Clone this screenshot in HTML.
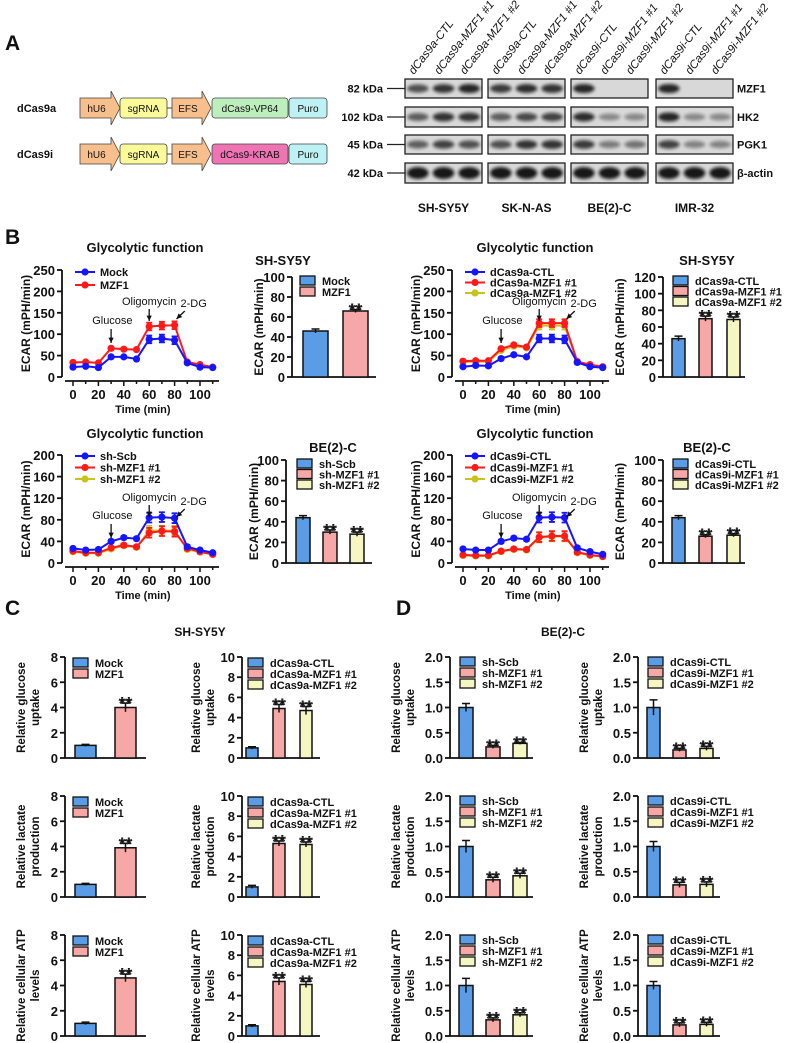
<!DOCTYPE html>
<html><head><meta charset="utf-8">
<style>
html,body{margin:0;padding:0;background:#fff;}
svg{display:block;}
</style></head>
<body>
<svg id="fig" width="788" height="1043" viewBox="0 0 788 1043" xmlns="http://www.w3.org/2000/svg">
<defs>
<filter id="blur" x="-30%" y="-80%" width="160%" height="260%"><feGaussianBlur stdDeviation="1.6"/></filter>
</defs>
</svg>
<script>
// ---------- DATA ----------
const times = [0,10,20,30,40,50,60,70,80,90,100,110];
const mockVals = [23,25,22,47,47,42,88,90,86,33,23,22];
const mzf1Vals = [34,35,33,67,65,64,118,120,121,35,29,23];
const aCtlVals = [24,27,26,43,52,47,90,90,88,34,24,22];
const a1Vals = [37,38,38,66,75,70,126,126,126,36,29,24];
const a2Vals = [35,36,36,62,72,68,120,120,120,35,28,23];
const scbVals = [27,24,25,40,47,45,84,85,83,30,24,19];
const sh1Vals = [22,19,19,28,33,30,56,59,58,27,21,16];
const sh2Vals = [21,18,18,26,32,29,60,60,60,25,20,16];
const iCtlVals = [26,24,24,40,46,44,84,85,84,28,21,16];
const i1Vals = [15,14,14,22,26,25,48,50,50,20,15,12];
const i2Vals = [14,13,13,21,25,24,47,49,49,19,14,12];
const peakErr = [2,2,2,3,3,3,9,9,9,3,2,2];

const ecarB1 = [46,66];     const ecarB1Err = [2,1.5];
const ecarB2 = [46,70,69];  const ecarB2Err = [3,3,3];
const ecarB3 = [44,30,28];  const ecarB3Err = [2,2,2];
const ecarB4 = [44,26,27];  const ecarB4Err = [2,1.5,1.5];

const gluC1 = [1.0,4.0];      const gluC1Err=[0.08,0.35];
const gluC2 = [1.0,4.9,4.7];  const gluC2Err=[0.12,0.4,0.4];
const lacC1 = [1.0,3.9];      const lacC1Err=[0.08,0.35];
const lacC2 = [1.0,5.3,5.2];  const lacC2Err=[0.15,0.25,0.25];
const atpC1 = [1.0,4.6];      const atpC1Err=[0.1,0.3];
const atpC2 = [1.0,5.4,5.1];  const atpC2Err=[0.12,0.35,0.3];
const gluD1 = [1.0,0.22,0.29]; const gluD1Err=[0.08,0.03,0.02];
const gluD2 = [1.0,0.16,0.19]; const gluD2Err=[0.15,0.03,0.04];
const lacD1 = [1.0,0.34,0.42]; const lacD1Err=[0.12,0.05,0.05];
const lacD2 = [1.0,0.24,0.25]; const lacD2Err=[0.1,0.05,0.05];
const atpD1 = [1.0,0.32,0.42]; const atpD1Err=[0.14,0.04,0.04];
const atpD2 = [1.0,0.22,0.23]; const atpD2Err=[0.08,0.04,0.04];

const blotRows = ['MZF1','HK2','PGK1','β-actin'];
const blotKda = ['82 kDa','102 kDa','45 kDa','42 kDa'];
const cellLines = ['SH-SY5Y','SK-N-AS','BE(2)-C','IMR-32'];
const laneNames = ['dCas9a-CTL','dCas9a-MZF1 #1','dCas9a-MZF1 #2','dCas9a-CTL','dCas9a-MZF1 #1','dCas9a-MZF1 #2','dCas9i-CTL','dCas9i-MZF1 #1','dCas9i-MZF1 #2','dCas9i-CTL','dCas9i-MZF1 #1','dCas9i-MZF1 #2'];
const bandMZF1 = [0.6,0.8,0.9, 0.75,0.85,0.8, 0.9,0,0, 0.9,0,0];
const bandHK2  = [0.5,0.8,0.8, 0.5,0.65,0.7, 0.85,0.2,0.2, 0.9,0.2,0.2];
const bandPGK1 = [0.5,0.7,0.6, 0.6,0.8,0.8, 0.75,0.3,0.35, 0.7,0.25,0.25];
const bandActin= [1,1,1, 1,1,1, 1,1,1, 1,1,1];

// ---------- HELPERS ----------
const svg = document.getElementById('fig');
const NS = 'http://www.w3.org/2000/svg';
const FONT = '"Liberation Sans", Arial, sans-serif';
function mk(tag, attrs, parent){
  const e = document.createElementNS(NS, tag);
  for (const k in attrs) e.setAttribute(k, attrs[k]);
  (parent || svg).appendChild(e);
  return e;
}
function tx(x, y, s, opts, parent){
  const e = mk('text', Object.assign({x:x, y:y, 'font-family':FONT, 'font-weight':'bold', 'font-size':11, 'text-anchor':'middle', fill:'#111'}, opts || {}), parent);
  e.textContent = s;
  return e;
}
const BLUE='#5a9de6', PINK='#f5a8a5', YEL='#f6f6c2';
const LBLUE='#1515ff', LRED='#ff1a1a', LYEL='#c8c21e';

// ---------- PANEL LETTERS ----------
[['A',5,50],['B',5,244],['C',5,615],['D',396,615]].forEach(function(p){
  const t = tx(p[1], p[2], p[0], {'font-size':21, 'text-anchor':'start'});
  
  
});

// ---------- PANEL A: constructs ----------
function construct(y, label, cas, casColor){
  const g = mk('g', {});
  
  
  const lab = tx(17, y+4, label, {'text-anchor':'start', 'font-size':11}, g);
  
  
  function arrow(x1, x2, name){
    const p = mk('path', {d:`M${x1},${y-10} L${x2-9},${y-10} L${x2-9},${y-17} L${x2},${y} L${x2-9},${y+17} L${x2-9},${y+10} L${x1},${y+10} Z`, fill:'#f7bf8c', stroke:'#444', 'stroke-width':0.8}, g);
    
    
    const t = tx((x1+x2-7)/2, y+4, name, {'font-weight':'normal','font-size':10}, g);
    
    
  }
  function box(x1, x2, name, col){
    const r = mk('rect', {x:x1, y:y-10, width:x2-x1, height:20, rx:3, fill:col, stroke:'#444', 'stroke-width':0.8}, g);
    
    
    const t = tx((x1+x2)/2, y+4, name, {'font-weight':'normal','font-size':10}, g);
    
    
  }
  arrow(80, 120, 'hU6');
  box(120, 167, 'sgRNA', '#fafa98');
  const ln = mk('line', {x1:167, y1:y, x2:172, y2:y, stroke:'#444'}, g);
  
  
  arrow(172, 211, 'EFS');
  box(212, 288, cas, casColor);
  box(289, 327, 'Puro', '#bdf1f3');
}
construct(108, 'dCas9a', 'dCas9-VP64', '#bdeebd');
construct(154, 'dCas9i', 'dCas9-KRAB', '#ee74b4');

// ---------- PANEL A: western blots ----------
const panelX = [[405,482],[488,565],[571,648],[656,733]];
const rowY = [[79,98],[107,127],[135,154],[163,183]];
const bandSets = [bandMZF1, bandHK2, bandPGK1, bandActin];
const blotG = mk('g', {});


rowY.forEach(function(ry, r){
  const k = tx(383, (ry[0]+ry[1])/2+4, blotKda[r], {'text-anchor':'end','font-size':11}, blotG);
  
  
  const l = mk('line', {x1:387, x2:405, y1:(ry[0]+ry[1])/2, y2:(ry[0]+ry[1])/2, stroke:'#222', 'stroke-width':1.3}, blotG);
  
  
  const rl = tx(737, (ry[0]+ry[1])/2+4, blotRows[r], {'text-anchor':'start','font-size':11}, blotG);
  
  
  panelX.forEach(function(px, p){
    const bg = mk('rect', {x:px[0], y:ry[0], width:px[1]-px[0], height:ry[1]-ry[0], fill:'#d8d8d8', stroke:'#222', 'stroke-width':1.3}, blotG);
    
    
    for (let j=0;j<3;j++){
      const v = bandSets[r][p*3+j];
      if (v <= 0) continue;
      const w = (px[1]-px[0])/3;
      const cx = px[0] + w*(j+0.5);
      const b = mk('ellipse', {cx:cx, cy:(ry[0]+ry[1])/2, rx:w*0.42, ry:(r===3?6:3.2+v*1.5), fill:'#111', opacity:0.25+0.7*v, filter:'url(#blur)'}, blotG);
      
      
    }
  });
});
panelX.forEach(function(px, p){
  const c = tx((px[0]+px[1])/2, 212, cellLines[p], {'font-size':12}, blotG);
  
  
  for (let j=0;j<3;j++){
    const w = (px[1]-px[0])/3;
    const lx = px[0] + w*(j+0.5) - 4;
    const t = tx(lx, 75, laneNames[p*3+j], {'text-anchor':'start','font-style':'italic','font-weight':'normal','font-size':11.5, transform:`rotate(-52 ${lx} 75)`}, blotG);
    
    
  }
});

// ---------- LINE CHART ----------
function lineChart(c){
  const g = mk('g', {});
  
  
  const xs = t => c.x0 + t*1.27;
  const ys = v => c.y0 - v*(c.y0-c.ytop)/c.ymax;
  const ax = c.x0 - 11;
  const ttl = tx(c.x0+72, c.titleY, 'Glycolytic function', {'font-size':13}, g);
  
  
  const yax = mk('line', {x1:ax, x2:ax, y1:c.y0, y2:c.ytop, stroke:'#111', 'stroke-width':1.8}, g);
  
  
  for (let v=0; v<=c.ymax; v+=c.step){
    const tk = mk('line', {x1:ax-5, x2:ax, y1:ys(v), y2:ys(v), stroke:'#111', 'stroke-width':1.8}, g);
    
    
    const tl = tx(ax-7, ys(v)+5, String(v), {'text-anchor':'end','font-size':13}, g);
    
    
  }
  const xay = c.y0 + 4;
  const xax = mk('line', {x1:ax+3, x2:xs(115), y1:xay, y2:xay, stroke:'#111', 'stroke-width':1.8}, g);
  
  
  for (let t=0; t<=110; t+=10){
    const tk = mk('line', {x1:xs(t), x2:xs(t), y1:xay, y2:xay+(t%20===0?5:3), stroke:'#111', 'stroke-width':1.5}, g);
    
    
    if (t%20===0 && t<=100){
      const tl = tx(xs(t), c.y0+22, String(t), {'font-size':13}, g);
      
      
    }
  }
  const xt = tx(xs(55), c.y0+36, 'Time (min)', {'font-size':11}, g);
  
  
  const yt = tx(c.ylx, (c.y0+c.ytop)/2, 'ECAR (mPH/min)', {'font-size':12, transform:`rotate(-90 ${c.ylx} ${(c.y0+c.ytop)/2})`}, g);
  
  
  for (let s=c.series.length-1; s>=0; s--){
    const se = c.series[s];
    const pts = times.map((t,i)=>xs(t)+','+ys(se.vals[i])).join(' ');
    const pl = mk('polyline', {points:pts, fill:'none', stroke:se.color, 'stroke-width':2}, g);
    
    
    times.forEach(function(t,i){
      const e = peakErr[i];
      const eb = mk('path', {d:`M${xs(t)},${ys(se.vals[i]+e)} V${ys(se.vals[i]-e)} M${xs(t)-3},${ys(se.vals[i]+e)} H${xs(t)+3} M${xs(t)-3},${ys(se.vals[i]-e)} H${xs(t)+3}`, stroke:se.color, 'stroke-width':1.8, fill:'none'}, g);
      
      
      const pt = mk('circle', {cx:xs(t), cy:ys(se.vals[i]), r:3.6, fill:se.color}, g);
      
      
    });
  }
  c.series.forEach(function(se, s){
    const ly = c.legY + s*c.legGap;
    const ll = mk('line', {x1:c.legX, x2:c.legX+20, y1:ly, y2:ly, stroke:se.color, 'stroke-width':2}, g);
    
    
    const lc = mk('circle', {cx:c.legX+10, cy:ly, r:3.6, fill:se.color}, g);
    
    
    const lt = tx(c.legX+25, ly+4, se.label, {'text-anchor':'start','font-size':11}, g);
    
    
  });
  const a = c.ann;
  function arr(x1,y1,x2,y2){
    const p = mk('line', {x1:x1,y1:y1,x2:x2,y2:y2, stroke:'#111','stroke-width':1.3}, g);
    
    
    const ang = Math.atan2(y2-y1, x2-x1);
    const h = mk('path', {d:`M${x2},${y2} L${x2-6*Math.cos(ang-0.45)},${y2-6*Math.sin(ang-0.45)} L${x2-6*Math.cos(ang+0.45)},${y2-6*Math.sin(ang+0.45)} Z`, fill:'#111'}, g);
    
    
  }
  const gt = tx(xs(31), c.y0+a.g, 'Glucose', {'font-weight':'normal','font-size':11}, g);
  
  
  arr(xs(30), c.y0+a.g+5, xs(30), c.y0+a.g+19);
  const ot = tx(xs(60), c.y0+a.o, 'Oligomycin', {'font-weight':'normal','font-size':11}, g);
  
  
  arr(xs(60), c.y0+a.o+4, xs(60), c.y0+a.o+16);
  const dt = tx(xs(95), c.y0+a.d, '2-DG', {'font-weight':'normal','font-size':11}, g);
  
  
  arr(xs(88), c.y0+a.d+4, xs(81.5), c.y0+a.d+12);
}

const ann1 = {g:-53, o:-72, d:-70};
const ann2 = {g:-44, o:-62, d:-58};
lineChart({name:'ecar-line-mzf1', x0:73, y0:377, ytop:270, ymax:250, step:50, titleY:252, ylx:30, legX:75, legY:272, legGap:13, ann:ann1,
  series:[{vals:mockVals,color:LBLUE,label:'Mock'},{vals:mzf1Vals,color:LRED,label:'MZF1'}]});
lineChart({name:'ecar-line-dcas9a', x0:463, y0:377, ytop:270, ymax:250, step:50, titleY:252, ylx:420, legX:465, legY:272, legGap:10.5, ann:ann1,
  series:[{vals:aCtlVals,color:LBLUE,label:'dCas9a-CTL'},{vals:a1Vals,color:LRED,label:'dCas9a-MZF1 #1'},{vals:a2Vals,color:LYEL,label:'dCas9a-MZF1 #2'}]});
lineChart({name:'ecar-line-sh', x0:73, y0:563, ytop:455, ymax:200, step:40, titleY:438, ylx:30, legX:75, legY:456, legGap:11.5, ann:ann2,
  series:[{vals:scbVals,color:LBLUE,label:'sh-Scb'},{vals:sh1Vals,color:LRED,label:'sh-MZF1 #1'},{vals:sh2Vals,color:LYEL,label:'sh-MZF1 #2'}]});
lineChart({name:'ecar-line-dcas9i', x0:463, y0:563, ytop:455, ymax:200, step:40, titleY:438, ylx:420, legX:465, legY:456, legGap:11.5, ann:ann2,
  series:[{vals:iCtlVals,color:LBLUE,label:'dCas9i-CTL'},{vals:i1Vals,color:LRED,label:'dCas9i-MZF1 #1'},{vals:i2Vals,color:LYEL,label:'dCas9i-MZF1 #2'}]});

// ---------- BAR CHART ----------
function barChart(c){
  const g = mk('g', {});
  
  
  const ys = v => c.y0 - v*(c.y0-c.ytop)/c.ymax;
  const fs = c.fs || 13;
  if (c.title){
    const t = tx(c.titleX, c.titleY, c.title, {'font-size':13}, g);
    
    
  }
  const yax = mk('line', {x1:c.ax, x2:c.ax, y1:c.y0, y2:c.ytop, stroke:'#111', 'stroke-width':1.8}, g);
  
  
  const nt = Math.round(c.ymax/c.step);
  for (let i=0; i<=nt; i++){
    const v = i*c.step;
    const tk = mk('line', {x1:c.ax-5, x2:c.ax, y1:ys(v), y2:ys(v), stroke:'#111', 'stroke-width':1.8}, g);
    
    
    const tl = tx(c.ax-7, ys(v)+5, v.toFixed(c.dec||0), {'text-anchor':'end','font-size':fs}, g);
    
    
  }
  const xax = mk('line', {x1:c.ax, x2:c.xend, y1:c.y0, y2:c.y0, stroke:'#111', 'stroke-width':1.8}, g);
  
  
  const cols = [BLUE, PINK, YEL];
  c.vals.forEach(function(v, i){
    const x = c.bx[i];
    const b = mk('rect', {x:x, y:ys(v), width:c.bw, height:c.y0-ys(v), fill:cols[i], stroke:'#111', 'stroke-width':1.5}, g);
    
    
    const e = c.errs[i], cx = x + c.bw/2;
    const eb = mk('path', {d:`M${cx},${ys(v+e)} V${ys(Math.max(v-e,0))} M${cx-4},${ys(v+e)} H${cx+4}`, stroke:'#111','stroke-width':1.5, fill:'none'}, g);
    
    
    if (i > 0){
      const st = tx(cx, ys(v+e)+6, '**', {'font-size':17,'font-weight':'normal', fill:'#fff', stroke:'#111', 'stroke-width':0.9}, g);
      
      
    }
  });
  c.labels.forEach(function(lb, i){
    const ly = c.legY + i*c.legGap;
    const r = mk('rect', {x:c.legX, y:ly-5, width:15, height:9, fill:cols[i], stroke:'#111', 'stroke-width':1.3}, g);
    
    
    const t = tx(c.legX+22, ly+4, lb, {'text-anchor':'start','font-size':11}, g);
    
    
  });
  const cy = (c.y0+c.ytop)/2;
  c.ylab.forEach(function(s, i){
    const lx = c.ylx + i*14;
    const t = tx(lx, cy, s, {'font-size':c.ylfs||12, transform:`rotate(-90 ${lx} ${cy})`}, g);
    
    
  });
}

const labMZ = ['Mock','MZF1'];
const labA = ['dCas9a-CTL','dCas9a-MZF1 #1','dCas9a-MZF1 #2'];
const labSh = ['sh-Scb','sh-MZF1 #1','sh-MZF1 #2'];
const labI = ['dCas9i-CTL','dCas9i-MZF1 #1','dCas9i-MZF1 #2'];

barChart({name:'ecar-bar-mzf1', ax:292, y0:377, ytop:277, ymax:100, step:20, bx:[303,343], bw:25, xend:376, vals:ecarB1, errs:ecarB1Err, labels:labMZ, legX:300, legY:281, legGap:11, title:'SH-SY5Y', titleX:283, titleY:265, ylab:['ECAR (mPH/min)'], ylx:263});
barChart({name:'ecar-bar-dcas9a', ax:663, y0:377, ytop:277, ymax:120, step:20, bx:[672,699,727], bw:13, xend:745, vals:ecarB2, errs:ecarB2Err, labels:labA, legX:673, legY:281, legGap:10.5, title:'SH-SY5Y', titleX:707, titleY:265, ylab:['ECAR (mPH/min)'], ylx:624});
barChart({name:'ecar-bar-sh', ax:286, y0:563, ytop:460, ymax:100, step:20, bx:[296,323,350], bw:14, xend:372, vals:ecarB3, errs:ecarB3Err, labels:labSh, legX:297, legY:464, legGap:10.5, title:'BE(2)-C', titleX:333, titleY:452, ylab:['ECAR (mPH/min)'], ylx:258});
barChart({name:'ecar-bar-dcas9i', ax:663, y0:563, ytop:460, ymax:100, step:20, bx:[672,699,727], bw:13, xend:745, vals:ecarB4, errs:ecarB4Err, labels:labI, legX:673, legY:464, legGap:10.5, title:'BE(2)-C', titleX:707, titleY:452, ylab:['ECAR (mPH/min)'], ylx:624});

const ct = tx(200, 636, 'SH-SY5Y', {'font-size':12});


const dt = tx(563, 636, 'BE(2)-C', {'font-size':12});



const rowsY0 = [758, 897, 1036];
const yLabs = [['Relative glucose','uptake'],['Relative lactate','production'],['Relative cellular ATP','levels']];
const cd = [
  [gluC1,gluC1Err,gluC2,gluC2Err,gluD1,gluD1Err,gluD2,gluD2Err],
  [lacC1,lacC1Err,lacC2,lacC2Err,lacD1,lacD1Err,lacD2,lacD2Err],
  [atpC1,atpC1Err,atpC2,atpC2Err,atpD1,atpD1Err,atpD2,atpD2Err]
];
const rowNames = ['glucose','lactate','atp'];
rowsY0.forEach(function(y0, r){
  const d = cd[r];
  const yt = y0 - 101;
  barChart({name:'c-'+rowNames[r]+'-mzf1', ax:65, y0:y0, ytop:yt, ymax:8, step:2, bx:[75,115], bw:21, xend:146, vals:d[0], errs:d[1], labels:labMZ, legX:73, legY:yt+6, legGap:11, ylab:yLabs[r], ylx:25, fs:13, ylfs:11.5});
  barChart({name:'c-'+rowNames[r]+'-dcas9a', ax:242, y0:y0, ytop:yt, ymax:10, step:2, bx:[246,273,300], bw:12, xend:320, vals:d[2], errs:d[3], labels:labA, legX:248, legY:yt+6, legGap:11, ylab:yLabs[r], ylx:200, fs:13, ylfs:11.5});
  barChart({name:'d-'+rowNames[r]+'-sh', ax:450, y0:y0, ytop:yt, ymax:2, step:0.5, dec:1, bx:[459,486,513], bw:14, xend:533, vals:d[4], errs:d[5], labels:labSh, legX:460, legY:yt+5, legGap:11, ylab:yLabs[r], ylx:400, fs:13, ylfs:11.5});
  barChart({name:'d-'+rowNames[r]+'-dcas9i', ax:638, y0:y0, ytop:yt, ymax:2, step:0.5, dec:1, bx:[647,673,700], bw:13, xend:720, vals:d[6], errs:d[7], labels:labI, legX:648, legY:yt+5, legGap:11, ylab:yLabs[r], ylx:588, fs:13, ylfs:11.5});
});
</script>
</body></html>
